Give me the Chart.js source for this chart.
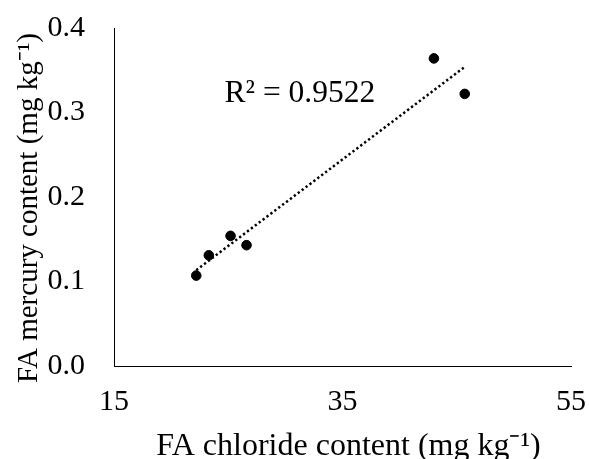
<!DOCTYPE html>
<html>
<head>
<meta charset="utf-8">
<script src="https://cdn.jsdelivr.net/npm/chart.js@4"></script>
<style>
html,body{margin:0;padding:0;background:#fff;}
#wrap{width:589px;height:459px;position:relative;}
</style>
</head>
<body>
<div id="wrap"><canvas id="c" width="589" height="459"></canvas></div>
<script>
const chlorideValues = [22.2, 23.3, 25.2, 26.6, 43.0, 45.7];
const mercuryValues = [0.107, 0.131, 0.154, 0.143, 0.364, 0.322];
const xTicks = [15, 35, 55];
const yTicks = [0.0, 0.1, 0.2, 0.3, 0.4];
const r2Label = 'R² = 0.9522';
const xTitle = 'FA chloride content (mg kg⁻¹)';
const yTitle = 'FA mercury content (mg kg⁻¹)';

// linear regression trendline from the data
const n = chlorideValues.length;
const mx = chlorideValues.reduce((a,b)=>a+b,0)/n;
const my = mercuryValues.reduce((a,b)=>a+b,0)/n;
let sxy=0, sxx=0;
for(let i=0;i<n;i++){sxy+=(chlorideValues[i]-mx)*(mercuryValues[i]-my);sxx+=(chlorideValues[i]-mx)**2;}
const slope = sxy/sxx, icpt = my - slope*mx;
const xmin = Math.min(...chlorideValues), xmax = Math.max(...chlorideValues);
const trend = [{x:xmin,y:icpt+slope*xmin},{x:xmax,y:icpt+slope*xmax}];

const FONT = 'Liberation Serif, Times New Roman, serif';
const FS = 30;

const textPlugin = {
  id:'texts',
  afterDraw(chart){
    const {ctx, scales:{x,y}, chartArea} = chart;
    ctx.save();
    ctx.fillStyle = '#000';
    // R² annotation
    ctx.font = '31.5px ' + FONT;
    ctx.textAlign = 'center';
    ctx.textBaseline = 'alphabetic';
    ctx.fillText(r2Label, x.getPixelForValue(31.27), y.getPixelForValue(0.312));
    // x title
    ctx.font = '32px ' + FONT;
    ctx.fillText(xTitle, (chartArea.left + chartArea.right)/2 + 6, chart.height - 4);
    // y title
    ctx.font = '29px ' + FONT;
    ctx.translate(37, (chartArea.top + chartArea.bottom)/2 + 11);
    ctx.rotate(-Math.PI/2);
    ctx.fillText(yTitle, 0, 0);
    ctx.restore();
  }
};

new Chart(document.getElementById('c'), {
  type:'scatter',
  data:{
    datasets:[
      {data: chlorideValues.map((v,i)=>({x:v,y:mercuryValues[i]})), backgroundColor:'#000', borderColor:'#000', pointRadius:4.8, pointHoverRadius:4.8},
      {type:'line', data: trend, borderColor:'#000', borderWidth:2.5, borderDash:[2.3,2.6], pointRadius:0, fill:false}
    ]
  },
  options:{
    responsive:false,
    animation:false,
    events:[],
    layout:{padding:0},
    plugins:{legend:{display:false}, tooltip:{enabled:false}},
    scales:{
      x:{
        type:'linear', min:15, max:55,
        afterBuildTicks(ax){ ax.ticks = xTicks.map(v=>({value:v})); },
        afterFit(s){ s.height = 93; s.paddingLeft = 0; s.paddingRight = 18; },
        grid:{display:false, drawTicks:false},
        border:{display:true, color:'#000', width:1},
        ticks:{font:{family:FONT, size:FS}, color:'#000', padding:18, maxRotation:0}
      },
      y:{
        type:'linear', min:0, max:0.4,
        afterBuildTicks(ax){ ax.ticks = yTicks.map(v=>({value:v})); },
        afterFit(s){ s.width = 114; s.paddingTop = 28; s.paddingBottom = 0; },
        grid:{display:false, drawTicks:false},
        border:{display:true, color:'#000', width:1},
        ticks:{font:{family:FONT, size:FS}, color:'#000', padding:29, callback:v=>Number(v).toFixed(1)}
      }
    }
  },
  plugins:[textPlugin]
});
</script>
</body>
</html>
